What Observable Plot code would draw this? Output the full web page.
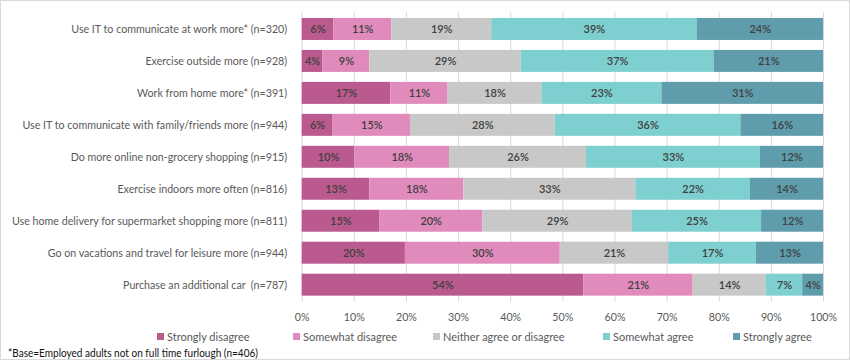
<!DOCTYPE html>
<html><head><meta charset="utf-8">
<script src="https://cdn.jsdelivr.net/npm/d3@7"></script>
<script src="https://cdn.jsdelivr.net/npm/@observablehq/plot@0.6"></script>
<style>
body{margin:0;background:#fff;font-family:Lato,"Open Sans",sans-serif;}
#wrap{position:relative;width:848px;height:358px;border:1px solid #d9d9d9;overflow:hidden;background:#fff}
#chart{position:absolute;left:-1px;top:-1px}
#legend{position:absolute;left:0;top:329px;width:850px;height:16px;font-size:11px;color:#595959;white-space:nowrap}
#legend .it{position:absolute;display:flex;align-items:center}
#legend .sw{width:7px;height:7px;margin-right:3px}
#note{position:absolute;left:7px;top:345px;font-size:11px;color:#111;white-space:nowrap;transform-origin:0 50%}
</style></head>
<body>
<div id="wrap"><div id="chart"></div><div id="legend"></div><div id="note">*Base=Employed adults not on full time furlough (n=406)</div></div>
<script>
const categories = [
  "Use IT to communicate at work more* (n=320)",
  "Exercise outside more (n=928)",
  "Work from home more* (n=391)",
  "Use IT to communicate with family/friends more (n=944)",
  "Do more online non-grocery shopping (n=915)",
  "Exercise indoors more often (n=816)",
  "Use home delivery for supermarket shopping more (n=811)",
  "Go on vacations and travel for leisure more (n=944)",
  "Purchase an additional car  (n=787)"
];
const responses = ["Strongly disagree","Somewhat disagree","Neither agree or disagree","Somewhat agree","Strongly agree"];
const colors = ["#bb5a8e","#e08bbb","#c8c8c8","#7ecfcf","#5f9dad"];
const stronglyDisagree = [6,4,17,6,10,13,15,20,54];
const somewhatDisagree = [11,9,11,15,18,18,20,30,21];
const neither          = [19,29,18,28,26,33,29,21,14];
const somewhatAgree    = [39,37,23,36,33,22,25,17,7];
const stronglyAgree    = [24,21,31,16,12,14,12,13,4];
const xTicks = [0,0.1,0.2,0.3,0.4,0.5,0.6,0.7,0.8,0.9,1];

const series = [stronglyDisagree, somewhatDisagree, neither, somewhatAgree, stronglyAgree];
const data = [];
categories.forEach((c, i) => {
  series.forEach((s, j) => data.push({cat: c, resp: responses[j], order: j, value: s[i]}));
});

const chart = Plot.plot({
  width: 850, height: 325,
  marginLeft: 302, marginRight: 26, marginTop: 12, marginBottom: 23,
  style: {fontFamily: "Lato, 'Open Sans', sans-serif", fontSize: "10.7px", color: "#595959", background: "transparent"},
  x: {domain: [0, 1], ticks: xTicks, tickFormat: d3.format(".0%"), tickSize: 0, tickPadding: 11, label: null},
  y: {domain: categories, paddingInner: 0.318, paddingOuter: 0.155, tickSize: 0, tickPadding: 15, label: null},
  color: {domain: responses, range: colors},
  marks: [
    Plot.gridX(xTicks, {stroke: "#d9d9d9", strokeOpacity: 1}),
    Plot.barX(data, Plot.stackX({x: "value", y: "cat", fill: "resp", order: "order", offset: "normalize"})),
    Plot.text(data, Plot.stackX({x: "value", y: "cat", order: "order", offset: "normalize", text: d => d.value + "%", fill: "#404040", fontWeight: 600, fontSize: 11}))
  ]
});
document.getElementById("chart").appendChild(chart);

const legendLeft = [156, 292, 432, 602, 732];
const lg = document.getElementById("legend");
responses.forEach((r, i) => {
  const it = document.createElement("div"); it.className = "it"; it.style.left = legendLeft[i] + "px";
  const sw = document.createElement("div"); sw.className = "sw"; sw.style.background = colors[i];
  const t = document.createElement("span"); t.textContent = r;
  it.appendChild(sw); it.appendChild(t); lg.appendChild(it);
});
const note = document.getElementById("note");
const w = note.getBoundingClientRect().width;
note.style.transform = "scaleX(" + (250 / w) + ")";
</script>
</body></html>
